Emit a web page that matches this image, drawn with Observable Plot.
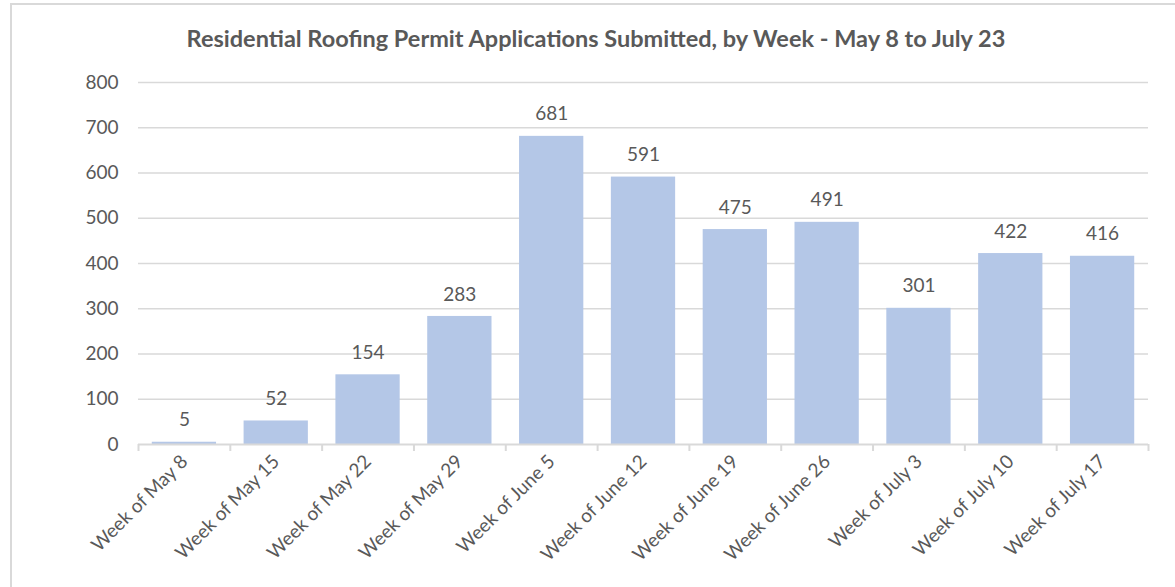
<!DOCTYPE html>
<html>
<head>
<meta charset="utf-8">
<script src="https://cdn.jsdelivr.net/npm/d3@7"></script>
<script src="https://cdn.jsdelivr.net/npm/@observablehq/plot@0.6"></script>
<style>
  html, body { margin: 0; padding: 0; background: #fff; overflow: hidden; }
  #wrap { position: relative; width: 1175px; height: 587px; }
  #frame { position: absolute; left: 10px; top: 3px; width: 1200px; height: 620px; border: 2px solid #d9d9d9; box-sizing: border-box; }
  #title { position: absolute; left: 0; top: 24px; width: 1192px; text-align: center;
    font-family: Lato, "Open Sans", sans-serif; font-weight: bold; font-size: 23.5px; color: #595959; white-space: nowrap; }
  #chart { position: absolute; left: 0; top: 0; }
</style>
</head>
<body>
<div id="wrap">
  <div id="frame"></div>
  <div id="chart"></div>
  <div id="title">Residential Roofing Permit Applications Submitted, by Week - May 8 to July 23</div>
</div>
<script>
const weeks = ["Week of May 8", "Week of May 15", "Week of May 22", "Week of May 29", "Week of June 5",
  "Week of June 12", "Week of June 19", "Week of June 26", "Week of July 3", "Week of July 10", "Week of July 17"];
const permits = [5, 52, 154, 283, 681, 591, 475, 491, 301, 422, 416];
const yTicks = [0, 100, 200, 300, 400, 500, 600, 700, 800];

const data = weeks.map((w, i) => ({week: w, value: permits[i]}));

const W = 1175, H = 587, mL = 138, mR = 27, mT = 82, mB = 143;
const step = (W - mL - mR) / weeks.length;
const grey = "#595959", grid = "#d9d9d9";
const fs = 19;

const chart = Plot.plot({
  width: W, height: H,
  marginLeft: mL, marginRight: mR, marginTop: mT, marginBottom: mB,
  style: {fontFamily: "Lato, 'Open Sans', sans-serif", fontSize: fs + "px", color: grey, background: "transparent"},
  x: {domain: weeks, paddingInner: 0.3, paddingOuter: 0.15, round: false, label: null},
  y: {domain: [0, 800], ticks: yTicks, label: null},
  marks: [
    Plot.gridY(yTicks.slice(1), {stroke: grid, strokeOpacity: 1, strokeWidth: 1.5}),
    Plot.barY(data, {x: "week", y: "value", fill: "#b4c7e7"}),
    Plot.ruleY([0], {stroke: grid, strokeWidth: 2}),
    Plot.ruleX(weeks, {x: d => d, dx: -step / 2, y1: 0, y2: 0, insetBottom: -7, stroke: grid, strokeWidth: 2}),
    Plot.ruleX(weeks.slice(-1), {x: d => d, dx: step / 2, y1: 0, y2: 0, insetBottom: -7, stroke: grid, strokeWidth: 2}),
    Plot.text(data, {x: "week", y: "value", text: d => String(d.value), dy: -22, fill: grey, fontSize: fs}),
    Plot.axisY(yTicks, {tickSize: 0, tickPadding: 20, fill: grey, fontSize: fs}),
    Plot.axisX({tickSize: 0, tickRotate: -45, tickPadding: 14, fill: grey, fontSize: fs, dx: 0})
  ]
});
document.getElementById("chart").appendChild(chart);
</script>
</body>
</html>
